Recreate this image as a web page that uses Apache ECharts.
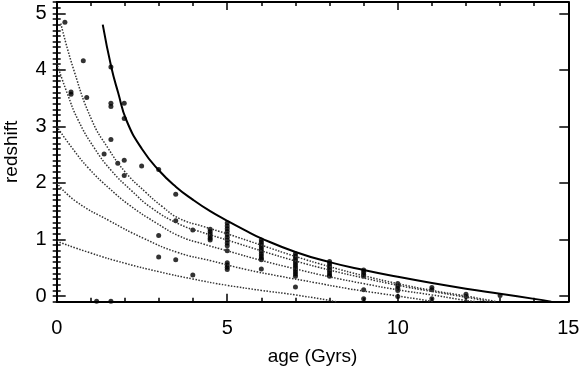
<!DOCTYPE html>
<html>
<head>
<meta charset="utf-8">
<script src="https://cdn.jsdelivr.net/npm/echarts@6/dist/echarts.min.js"></script>
<style>
  html, body { margin: 0; padding: 0; background: #fff; }
  #chart { width: 581px; height: 367px; }
</style>
</head>
<body>
<div id="chart"></div>
<script>
// age of the universe curve (solid)
var universeAge = [1.35, 1.6, 1.8, 2.05, 2.5, 3.0, 3.5, 4.0, 4.5, 5.0, 5.5, 6.0, 7.0, 8.0, 9.0, 10.0, 11.0, 12.0, 13.0, 14.0, 14.5];
var universeZ   = [4.8, 4.05, 3.6, 3.1, 2.6, 2.22, 1.93, 1.7, 1.5, 1.33, 1.17, 1.02, 0.78, 0.6, 0.46, 0.34, 0.23, 0.13, 0.04, -0.05, -0.1];

// formation-redshift tracks (dotted), [age, z]
var trackZf1 = [[0, 0.97], [1, 0.76], [2, 0.58], [3, 0.43], [4, 0.3], [5, 0.19], [6, 0.1], [7, 0.02], [8.2, -0.1]];
var trackZf2 = [[0, 2.0], [0.55, 1.68], [1.55, 1.33], [2.55, 1.02], [3.55, 0.77], [4.55, 0.62], [5.55, 0.47], [6.55, 0.35], [7.55, 0.24], [8.55, 0.13], [9.55, 0.04], [10.55, -0.05], [11.05, -0.1]];
var trackZf3 = [[0, 3.0], [0.45, 2.62], [0.95, 2.25], [1.55, 1.9], [2.15, 1.6], [2.9, 1.3], [3.6, 1.06], [4.3, 0.92], [5, 0.8], [6, 0.63], [7, 0.48], [8, 0.34], [9, 0.22], [10, 0.11], [11, 0.02], [11.8, -0.06], [12.3, -0.1]];
var trackZf4 = [[0, 4.12], [0.3, 3.6], [0.63, 3.11], [1.1, 2.62], [1.6, 2.22], [2.2, 1.86], [2.8, 1.55], [3.6, 1.27], [4.3, 1.12], [5, 0.99], [6, 0.8], [7, 0.62], [8, 0.46], [9, 0.32], [10, 0.19], [11, 0.08], [12, -0.02], [12.7, -0.1]];
var trackZf5 = [[0.12, 4.82], [0.5, 4.0], [1.03, 3.11], [1.5, 2.62], [2.0, 2.2], [2.6, 1.84], [3.1, 1.58], [3.6, 1.37], [4.3, 1.23], [5, 1.1], [6, 0.9], [7, 0.7], [8, 0.52], [9, 0.36], [10, 0.22], [11, 0.1], [12, 0.0], [12.9, -0.1]];

// galaxies: age (Gyrs) and redshift
var galAge = [0.24, 0.78, 1.59, 0.42, 0.42, 0.88, 1.59, 1.59, 1.98, 1.98, 1.59, 1.39, 1.79, 1.98, 2.49, 2.99, 1.98,
  3.49, 3.49, 3.99, 2.99, 2.99, 3.49, 3.99, 1.17, 1.59,
  4.5, 4.5, 4.5, 4.5, 4.5, 4.5,
  5, 5, 5, 5, 5, 5, 5, 5, 5, 5, 5, 5, 5, 5,
  6, 6, 6, 6, 6, 6, 6, 6, 6, 6, 6,
  7, 7, 7, 7, 7, 7, 7, 7, 7, 7, 7, 7,
  8, 8, 8, 8, 8, 8, 8, 8,
  9, 9, 9, 9, 9, 9,
  10, 10, 10, 10, 10,
  11, 11, 11,
  12, 12,
  13];
var galZ = [4.84, 4.16, 4.05, 3.61, 3.57, 3.51, 3.41, 3.35, 3.41, 3.14, 2.77, 2.51, 2.35, 2.40, 2.30, 2.24, 2.13,
  1.80, 1.33, 1.17, 1.07, 0.69, 0.64, 0.37, -0.09, -0.09,
  1.18, 1.14, 1.10, 1.06, 1.02, 0.99,
  1.29, 1.24, 1.19, 1.14, 1.09, 1.04, 0.99, 0.94, 0.89, 0.80, 0.59, 0.55, 0.51, 0.47,
  0.99, 0.95, 0.91, 0.87, 0.83, 0.79, 0.75, 0.71, 0.67, 0.64, 0.48,
  0.75, 0.71, 0.67, 0.63, 0.59, 0.55, 0.51, 0.47, 0.43, 0.39, 0.35, 0.16,
  0.61, 0.57, 0.53, 0.49, 0.45, 0.41, 0.37, 0.35,
  0.46, 0.42, 0.38, 0.35, 0.11, -0.05,
  0.22, 0.18, 0.14, 0.10, -0.01,
  0.15, 0.11, -0.05,
  0.03, -0.01,
  0.01];

var yMajor = [0, 1, 2, 3, 4, 5];

var FONT = 'Liberation Sans';

function pairs(xs, ys) {
    var out = [];
    for (var i = 0; i < xs.length; i++) out.push([xs[i], ys[i]]);
    return out;
}

function xAxisDef(pos, showLabel) {
    return {
        type: 'value', position: pos, min: 0, max: 15, interval: 5,
        name: showLabel ? 'age (Gyrs)' : '',
        nameLocation: 'middle', nameGap: 46,
        nameTextStyle: { fontFamily: FONT, fontSize: 19, color: '#000' },
        axisLine: { show: true, onZero: false, lineStyle: { color: '#000', width: 2 } },
        axisTick: { show: true, inside: true, length: 8, lineStyle: { color: '#000', width: 1.5 } },
        minorTick: { show: true, splitNumber: 5, length: 4, lineStyle: { color: '#000', width: 1.5 } },
        axisLabel: { show: showLabel, margin: 17, fontFamily: FONT, fontSize: 20, color: '#000' },
        splitLine: { show: false }
    };
}

// major ticks + labels (custom values), minor ticks on a twin axis
function yMajorDef(pos, showLabel) {
    return {
        type: 'value', position: pos, min: -0.1, max: 5.2,
        name: showLabel ? 'redshift' : '',
        nameLocation: 'middle', nameGap: 35,
        nameTextStyle: { fontFamily: FONT, fontSize: 19, color: '#000' },
        axisLine: { show: true, onZero: false, lineStyle: { color: '#000', width: 2 } },
        axisTick: { show: true, inside: true, length: 9, customValues: yMajor, lineStyle: { color: '#000', width: 1.5 } },
        axisLabel: { show: showLabel, margin: 10, customValues: yMajor, fontFamily: FONT, fontSize: 20, color: '#000' },
        splitLine: { show: false }
    };
}
function yMinorDef(pos) {
    return {
        type: 'value', position: pos, min: -0.1, max: 5.2, interval: 0.1,
        axisLine: { show: false },
        axisTick: { show: true, inside: true, length: 4, lineStyle: { color: '#000', width: 1.5 } },
        axisLabel: { show: false },
        splitLine: { show: false }
    };
}

function track(data) {
    return {
        type: 'line', data: data, smooth: true, showSymbol: false, silent: true,
        lineStyle: { color: '#333', width: 1.5, type: [1.5, 1.5] }
    };
}

var chart = echarts.init(document.getElementById('chart'));
chart.setOption({
    animation: false,
    grid: { left: 56.7, right: 12.7, top: 2, bottom: 65.3, outerBoundsMode: 'none', containLabel: false },
    xAxis: [xAxisDef('bottom', true), xAxisDef('top', false)],
    yAxis: [yMajorDef('left', true), yMajorDef('right', false), yMinorDef('left'), yMinorDef('right')],
    series: [
        {
            type: 'line', data: pairs(universeAge, universeZ), smooth: true, showSymbol: false,
            lineStyle: { color: '#000', width: 2 }
        },
        track(trackZf1), track(trackZf2), track(trackZf3), track(trackZf4), track(trackZf5),
        {
            type: 'scatter', data: pairs(galAge, galZ), symbolSize: 5,
            itemStyle: { color: '#000' }
        }
    ]
});
</script>
</body>
</html>
